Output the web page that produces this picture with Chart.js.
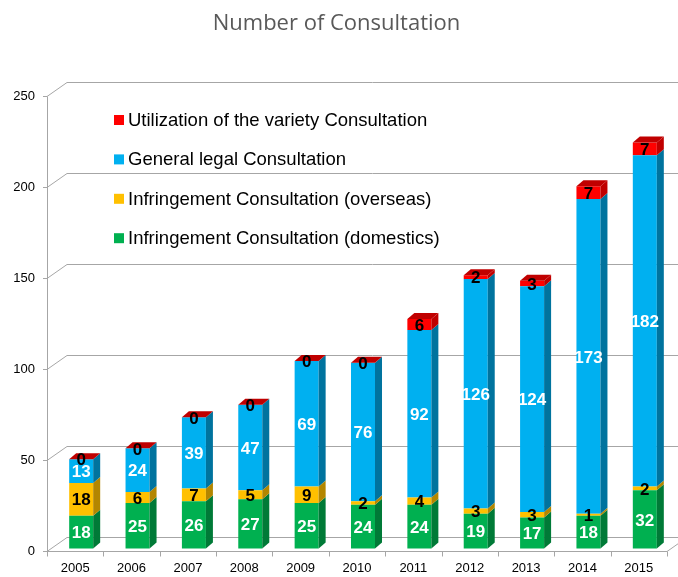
<!DOCTYPE html>
<html>
<head>
<meta charset="utf-8">
<script src="https://cdn.jsdelivr.net/npm/chart.js@4.4.0/dist/chart.umd.min.js"></script>
<style>
  html, body { margin: 0; padding: 0; background: #fff; }
  #wrap { width: 678px; height: 577px; }
</style>
</head>
<body>
<div id="wrap"><canvas id="chart"></canvas></div>
<script>
const YEARS = ['2005', '2006', '2007', '2008', '2009', '2010', '2011', '2012', '2013', '2014', '2015'];
const DOMESTIC = [18, 25, 26, 27, 25, 24, 24, 19, 17, 18, 32];
const OVERSEAS = [18, 6, 7, 5, 9, 2, 4, 3, 3, 1, 2];
const GENERAL = [13, 24, 39, 47, 69, 76, 92, 126, 124, 173, 182];
const UTILIZATION = [0, 0, 0, 0, 0, 0, 6, 2, 3, 7, 7];
const Y_TICKS = [0, 50, 100, 150, 200, 250];

const SERIES_NAMES = [
    'Infringement Consultation (domestics)',
    'Infringement Consultation (overseas)',
    'General legal Consultation',
    'Utilization of the variety Consultation',
];
const FRONT = ['#00b050', '#ffc000', '#00b0f0', '#ff0000'];
const SIDE = ['#007a37', '#b38600', '#00739e', '#c00000'];
const LABEL_COLORS = ['#ffffff', '#000000', '#ffffff', '#000000'];

const SANS = "'Liberation Sans', Arial, sans-serif";
const SHIFT = 6;          // bars sit a little behind the front frame
const DEPTH_X = 7;        // bar depth
const DEPTH_Y = -6;
const WALL_X = 20;        // back wall offset
const WALL_Y = -14;

function poly(ctx, pts, fill) {
    ctx.beginPath();
    ctx.moveTo(pts[0][0], pts[0][1]);
    for (let i = 1; i < pts.length; i += 1) {
        ctx.lineTo(pts[i][0], pts[i][1]);
    }
    ctx.closePath();
    ctx.fillStyle = fill;
    ctx.fill();
}

const bars3d = {
    id: 'bars3d',
    beforeDatasetsDraw(chart) {
        const ctx = chart.ctx;
        const area = chart.chartArea;
        const y2 = chart.scales.y2;
        const fx = area.left - SHIFT;
        const rx = area.right - SHIFT;
        const by = Math.round(y2.getPixelForValue(0)) + 0.5;
        const ty = Math.round(y2.getPixelForValue(Y_TICKS[Y_TICKS.length - 1])) + 0.5;

        ctx.save();
        ctx.strokeStyle = '#a6a6a6';
        ctx.lineWidth = 1;
        ctx.beginPath();
        Y_TICKS.forEach(function (v) {
            const py = Math.round(y2.getPixelForValue(v)) + 0.5;
            ctx.moveTo(fx - 4, py);
            ctx.lineTo(fx, py);
            ctx.lineTo(fx + WALL_X, py + WALL_Y);
            ctx.lineTo(chart.width, py + WALL_Y);
        });
        ctx.moveTo(fx, by);
        ctx.lineTo(rx, by);
        ctx.lineTo(rx + WALL_X, by + WALL_Y);
        ctx.moveTo(Math.round(fx) + 0.5, ty);
        ctx.lineTo(Math.round(fx) + 0.5, by);
        const n = YEARS.length;
        const cw = (rx - fx) / n;
        for (let i = 0; i <= n; i += 1) {
            const tx = Math.round(fx + i * cw) + 0.5;
            ctx.moveTo(tx, by);
            ctx.lineTo(tx, by + 5);
        }
        ctx.stroke();
        ctx.restore();
    },
    afterDatasetsDraw(chart) {
        const ctx = chart.ctx;
        const area = chart.chartArea;
        const last = chart.data.datasets.length - 1;

        ctx.save();
        // side and top faces
        chart.data.datasets.forEach(function (ds, i) {
            const meta = chart.getDatasetMeta(i);
            meta.data.forEach(function (el) {
                const half = el.width / 2;
                const l = el.x - half;
                const r = el.x + half;
                const top = Math.min(el.y, el.base);
                const bot = Math.max(el.y, el.base);
                poly(ctx, [[r, top], [r + DEPTH_X, top + DEPTH_Y], [r + DEPTH_X, bot + DEPTH_Y], [r, bot]], SIDE[i]);
                if (i === last) {
                    poly(ctx, [[l, top], [r, top], [r + DEPTH_X, top + DEPTH_Y], [l + DEPTH_X, top + DEPTH_Y]], SIDE[i]);
                }
            });
        });

        // value labels
        ctx.font = 'bold 17px ' + SANS;
        ctx.textAlign = 'center';
        ctx.textBaseline = 'middle';
        chart.data.datasets.forEach(function (ds, i) {
            const meta = chart.getDatasetMeta(i);
            meta.data.forEach(function (el, j) {
                const mid = (el.y + el.base) / 2;
                ctx.fillStyle = LABEL_COLORS[i];
                ctx.fillText(String(ds.data[j]), el.x, mid + 1.5);
            });
        });

        // legend, top series first
        ctx.font = '18.5px ' + SANS;
        ctx.textAlign = 'left';
        for (let k = 0; k <= last; k += 1) {
            const i = last - k;
            const cy = area.top + 24 + k * 39.4;
            ctx.fillStyle = FRONT[i];
            ctx.fillRect(area.left + 61, cy - 5, 10, 10);
            ctx.fillStyle = '#000000';
            ctx.fillText(chart.data.datasets[i].label, area.left + 75, cy + 1);
        }
        ctx.restore();
    },
};

const seriesData = [DOMESTIC, OVERSEAS, GENERAL, UTILIZATION];

new Chart(document.getElementById('chart'), {
    type: 'bar',
    data: {
        labels: YEARS,
        datasets: seriesData.map(function (values, i) {
            return {
                label: SERIES_NAMES[i],
                data: values,
                backgroundColor: FRONT[i],
                yAxisID: 'y',
            };
        }),
    },
    options: {
        responsive: true,
        maintainAspectRatio: false,
        animation: false,
        layout: { padding: { top: 0, right: 5, bottom: 0, left: 0 } },
        datasets: { bar: { categoryPercentage: 1, barPercentage: 0.426 } },
        plugins: {
            legend: { display: false },
            tooltip: { enabled: false },
            title: {
                display: true,
                text: 'Number of Consultation',
                color: '#595959',
                font: { family: "'Open Sans', sans-serif", size: 22, weight: 'normal', lineHeight: 1.2 },
                padding: { top: 10.5, bottom: 59.1 },
            },
        },
        scales: {
            x: {
                stacked: true,
                grid: { display: false, drawTicks: false },
                border: { display: false },
                ticks: { color: '#000', font: { family: SANS, size: 13 }, padding: 9, labelOffset: -SHIFT },
                afterFit: function (s) { s.height = 25; },
            },
            y: {
                stacked: true,
                display: false,
                min: -1.5,
                max: 248.5,
            },
            y2: {
                position: 'left',
                min: 0,
                max: 250,
                grid: { display: false, drawTicks: false },
                border: { display: false },
                ticks: { stepSize: 50, padding: 18, color: '#000', font: { family: SANS, size: 13 } },
                afterFit: function (s) { s.width = 53; },
            },
        },
    },
    plugins: [bars3d],
});
</script>
</body>
</html>
